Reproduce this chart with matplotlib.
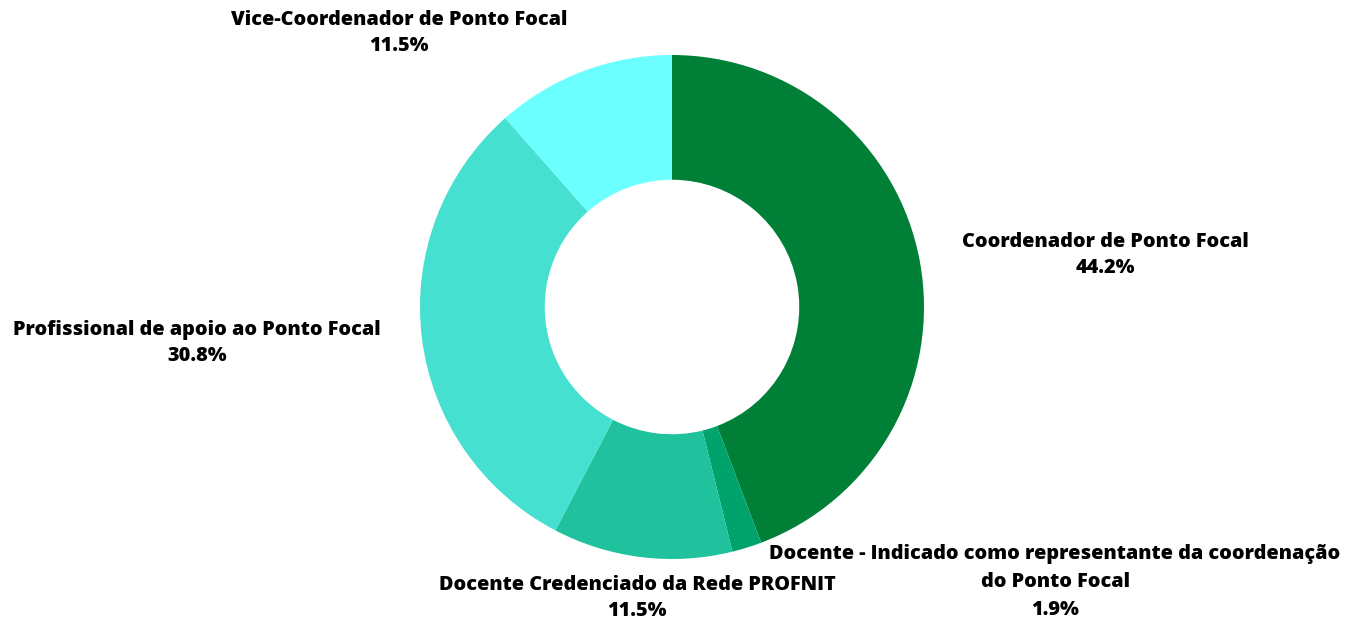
import matplotlib.pyplot as plt

# share of respondents by role
labels = ["Coordenador de Ponto Focal",
          "Docente - Indicado como representante da coordenação\ndo Ponto Focal",
          "Docente Credenciado da Rede PROFNIT",
          "Profissional de apoio ao Ponto Focal",
          "Vice-Coordenador de Ponto Focal"]
values = [44.2, 1.9, 11.5, 30.8, 11.5]
colors = ["#007f37", "#00a36c", "#20c29e", "#45e0cf", "#6cffff"]

# label block centres (data units, radius = 1)
label_pos = [(1.718, 0.206), (1.520, -1.091), (-0.139, -1.155),
             (-1.885, -0.143), (-1.083, 1.087)]
line_sp = [1.4, 1.55, 1.4, 1.4, 1.4]

plt.rcParams['font.family'] = ['Open Sans', 'DejaVu Sans']

fig = plt.figure(figsize=(13.64, 6.23), dpi=100)
ax = fig.add_axes([0, 0, 1, 1])
ax.pie(values, colors=colors, startangle=90, counterclock=False,
       radius=1.0, wedgeprops=dict(width=0.495, edgecolor='none'))

for lab, v, (x, y), ls in zip(labels, values, label_pos, line_sp):
    ax.text(x, y, "{}\n{:.1f}%".format(lab, v), ha='center', va='center',
            fontsize=14.3, fontweight='heavy', linespacing=ls, color='black')

ax.set_xlim(-672 / 252, (1364 - 672) / 252)
ax.set_ylim(-316 / 252, 307 / 252)
ax.set_aspect('equal')
ax.axis('off')

fig.savefig("out.png", dpi=100)
